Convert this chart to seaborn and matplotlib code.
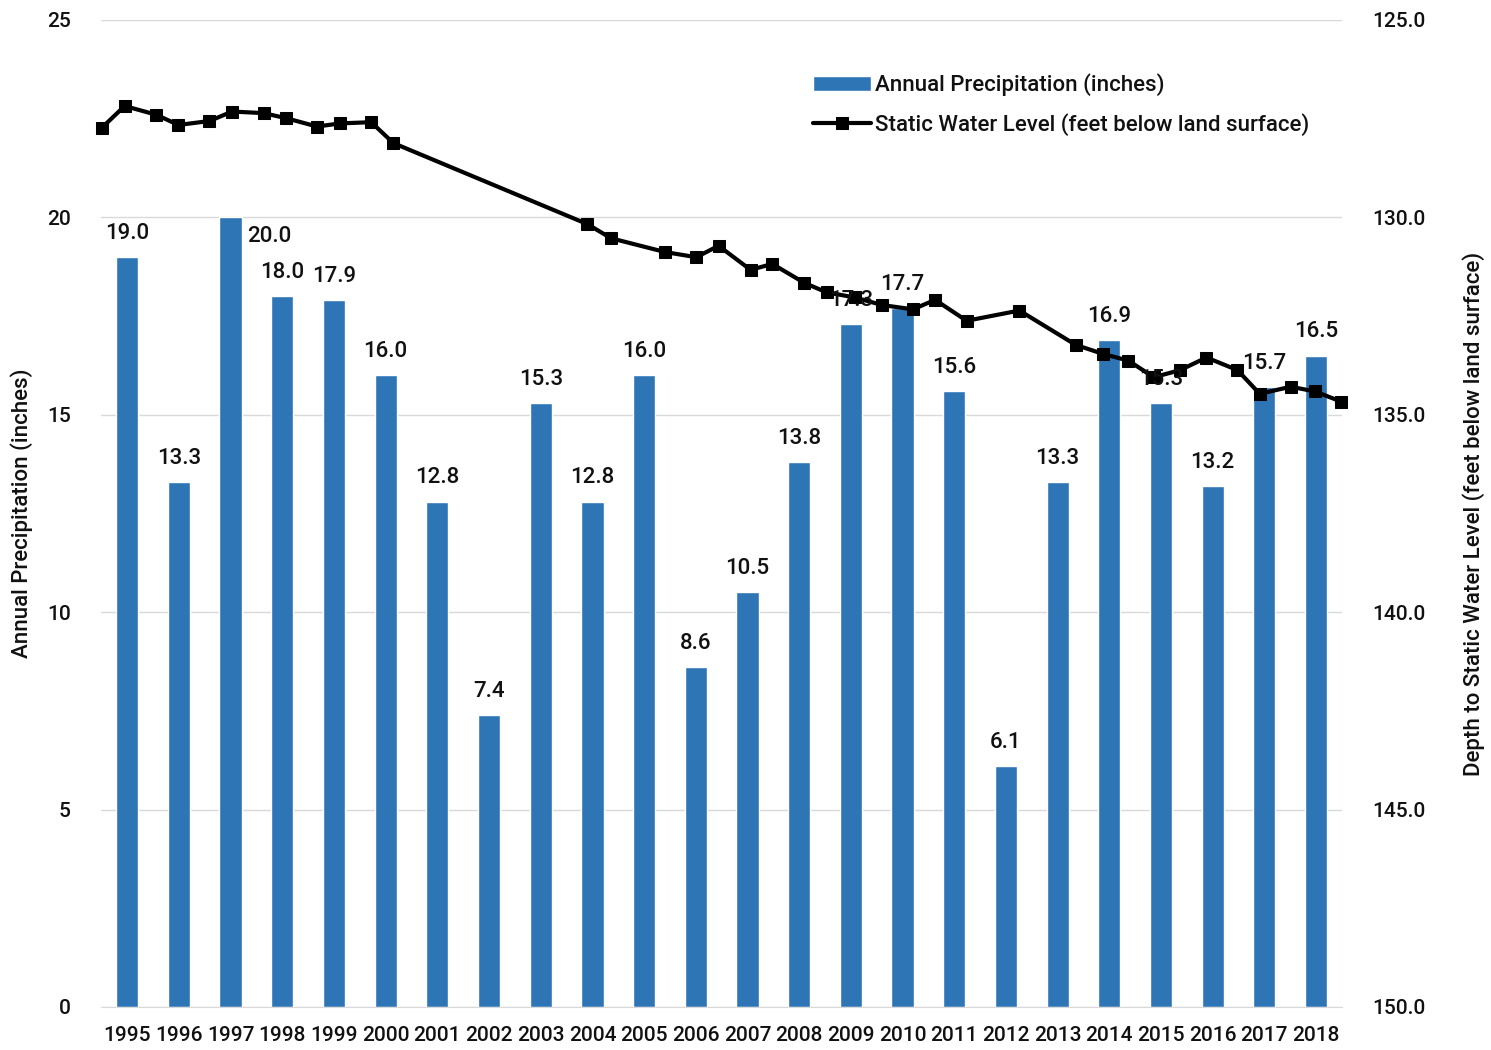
import seaborn as sns
import matplotlib.pyplot as plt
import numpy as np
import pandas as pd

# annual precipitation (inches), one bar per year
years = [str(y) for y in range(1995, 2019)]
precip = [19.0, 13.3, 20.0, 18.0, 17.9, 16.0, 12.8, 7.4, 15.3, 12.8, 16.0, 8.6,
          10.5, 13.8, 17.3, 17.7, 15.6, 6.1, 13.3, 16.9, 15.3, 13.2, 15.7, 16.5]

# static water level measurements (decimal year, feet below land surface)
swl_date = [1995.01, 1995.45, 1996.06, 1996.49, 1997.09, 1997.53, 1998.14, 1998.58,
            1999.17, 1999.62, 2000.22, 2000.65, 2004.40, 2004.86, 2005.91, 2006.51,
            2006.94, 2007.56, 2007.98, 2008.60, 2009.03, 2009.58, 2010.10, 2010.70,
            2011.13, 2011.74, 2012.76, 2013.85, 2014.38, 2014.87, 2015.36, 2015.87,
            2016.38, 2016.98, 2017.41, 2018.01, 2018.48, 2018.99]
swl_depth = [127.73, 127.18, 127.40, 127.66, 127.56, 127.32, 127.36, 127.49,
             127.70, 127.62, 127.59, 128.12, 130.17, 130.53, 130.88, 131.01,
             130.72, 131.33, 131.18, 131.66, 131.90, 132.03, 132.22, 132.33,
             132.09, 132.62, 132.36, 133.23, 133.46, 133.63, 134.05, 133.87,
             133.55, 133.87, 134.47, 134.29, 134.41, 134.67]

bar_df = pd.DataFrame({"year": years, "precip": precip})
# bars sit at 0..23, so a date maps to (date - 1995.5)
line_df = pd.DataFrame({"pos": np.array(swl_date) - 1995.5, "depth": swl_depth})

sns.set_style("white")
plt.rcParams["font.family"] = ["Roboto", "Liberation Sans", "DejaVu Sans"]
plt.rcParams["font.weight"] = "medium"
plt.rcParams["axes.labelweight"] = "medium"
txt = "#111111"

fig = plt.figure(figsize=(14.91, 10.5), dpi=100)
ax = fig.add_axes([0.068, 0.041, 0.832, 0.940])

sns.barplot(data=bar_df, x="year", y="precip", color="#2E75B6", width=0.43,
            saturation=1, ax=ax, label="Annual Precipitation (inches)")
ax.set_ylim(0, 25)
ax.set_xlim(-0.5, 23.5)
ax.set_yticks(range(0, 26, 5))
ax.grid(axis="y", color="#D9D9D9", linewidth=1)
ax.set_axisbelow(True)
for s in ["top", "right", "left"]:
    ax.spines[s].set_visible(False)
ax.spines["bottom"].set_color("#D9D9D9")
ax.tick_params(axis="both", length=0, labelsize=15, labelcolor=txt)
ax.tick_params(axis="y", pad=22)
ax.tick_params(axis="x", pad=14)
ax.set_xlabel("")
ax.set_ylabel("Annual Precipitation (inches)", fontsize=16, labelpad=10, color=txt)

ax2 = ax.twinx()
sns.lineplot(data=line_df, x="pos", y="depth", color="black", linewidth=3,
             marker="s", markersize=8, markeredgecolor="black", ax=ax2,
             label="Static Water Level (feet below land surface)", clip_on=False)
ax2.set_ylim(150, 125)
ax2.set_yticks(np.arange(125, 151, 5))
ax2.set_yticklabels([f"{v:.1f}" for v in np.arange(125, 151, 5)])
ax2.set_xlim(-0.5, 23.5)
for s in ["top", "right", "left", "bottom"]:
    ax2.spines[s].set_visible(False)
ax2.tick_params(axis="y", length=0, labelsize=15, pad=22, labelcolor=txt)
ax2.set_ylabel("Depth to Static Water Level (feet below land surface)",
               fontsize=16, labelpad=26, color=txt)
ax2.set_xlabel("")

# value labels above bars, drawn over the line
for i, v in enumerate(precip):
    if v >= 20:
        off = (28, -14)
    else:
        off = (0, 17)
    ax2.annotate(f"{v:.1f}", xy=(i, v), xycoords=ax.transData,
                 xytext=off, textcoords="offset points",
                 ha="center", va="center", fontsize=16, color=txt)

h1, l1 = ax.get_legend_handles_labels()
h2, l2 = ax2.get_legend_handles_labels()
if ax.get_legend():
    ax.get_legend().remove()
ax2.legend(h1 + h2, l1 + l2, loc="upper right", bbox_to_anchor=(0.99, 0.966),
           frameon=False, fontsize=16, handlelength=2.6, handletextpad=0.2,
           labelspacing=0.75, labelcolor=txt)

fig.savefig("out.png", dpi=100)
